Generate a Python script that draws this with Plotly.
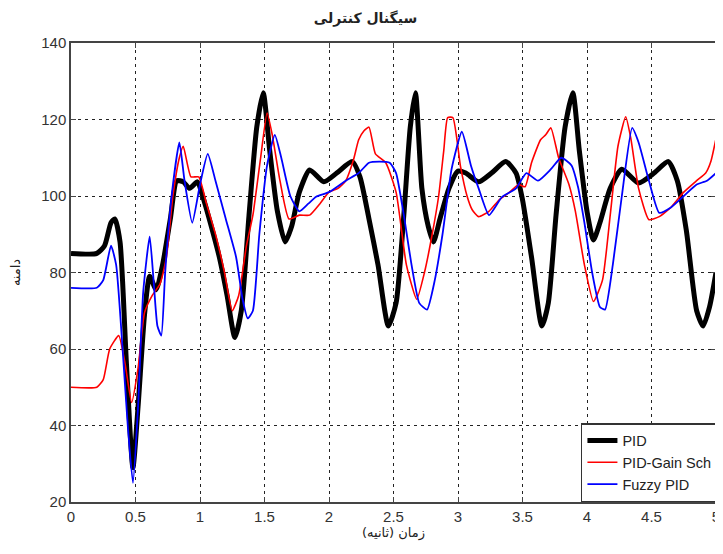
import plotly.graph_objects as go

# ---- data ----
t_pid = [0, 0.2, 0.26, 0.31, 0.34, 0.38, 0.43, 0.48, 0.52, 0.57, 0.61, 0.66, 0.71, 0.77, 0.82, 0.87,
         0.92, 0.98, 1.02, 1.08, 1.15, 1.21, 1.27, 1.32, 1.38, 1.44, 1.49, 1.54, 1.6, 1.66, 1.71, 1.77,
         1.85, 1.96, 2.06, 2.18, 2.24, 2.31, 2.38, 2.46, 2.52, 2.58, 2.63, 2.67, 2.72, 2.77, 2.81, 2.86,
         2.93, 3.0, 3.06, 3.16, 3.26, 3.37, 3.45, 3.5, 3.57, 3.65, 3.7, 3.76, 3.83, 3.89, 3.94, 4.0,
         4.05, 4.1, 4.18, 4.27, 4.4, 4.52, 4.63, 4.7, 4.77, 4.85, 4.9, 4.95, 5.0]
y_pid = [85, 85, 87, 93, 94, 88, 56, 29, 45, 69, 79, 75.5, 82, 94, 104, 103.7,
         102, 103.7, 100, 93, 84, 74, 63, 70, 95, 118, 127, 112, 96, 88, 92, 101,
         106.8, 103.7, 106, 109, 105, 94, 82, 66, 72, 95, 118, 127, 102, 92, 88, 94,
         102, 106.5, 106, 103.7, 106, 109, 106, 99, 84, 66, 72, 95, 118, 127, 112, 96,
         88.5, 93, 102, 107, 103.4, 106, 109, 104, 91, 70, 66, 71, 80]

t_gain = [0, 0.2, 0.25, 0.3, 0.37, 0.42, 0.47, 0.52, 0.57, 0.63, 0.69, 0.74, 0.79, 0.84, 0.87, 0.93,
          0.99, 1.05, 1.12, 1.19, 1.25, 1.3, 1.36, 1.41, 1.47, 1.52, 1.56, 1.62, 1.69, 1.77, 1.85, 1.93,
          2.0, 2.07, 2.13, 2.19, 2.23, 2.27, 2.31, 2.36, 2.44, 2.52, 2.6, 2.68, 2.74, 2.8, 2.85, 2.89,
          2.92, 2.96, 3.02, 3.07, 3.11, 3.16, 3.24, 3.32, 3.4, 3.47, 3.52, 3.57, 3.64, 3.68, 3.72, 3.78,
          3.86, 3.91, 3.98, 4.05, 4.12, 4.18, 4.24, 4.3, 4.34, 4.4, 4.48, 4.56, 4.65, 4.75, 4.85, 4.92,
          4.96, 5.0]
y_gain = [50, 50, 52, 60, 63.5, 56, 46, 55, 69.5, 74, 77, 84, 100, 110, 113, 105,
          105, 98, 90, 80, 70, 74, 87, 95, 110, 121.7, 116, 104, 94, 95, 95, 98,
          101, 102, 104, 109.5, 114.7, 117, 118, 111, 108.7, 101, 82, 73, 80, 90, 100, 112,
          120.5, 120.5, 107.6, 100, 96.4, 94.6, 96, 99, 101, 103, 102.4, 108.7, 114.7, 116, 117.8, 110,
          103, 96, 82, 72.4, 78, 95, 113, 120.7, 115, 102, 93.8, 94.6, 97, 101, 104, 106,
          109, 115]

t_fuzzy = [0, 0.2, 0.25, 0.31, 0.35, 0.4, 0.44, 0.48, 0.52, 0.56, 0.61, 0.64, 0.67, 0.7, 0.73, 0.78,
           0.84, 0.88, 0.94, 1.0, 1.06, 1.12, 1.2, 1.28, 1.33, 1.37, 1.41, 1.46, 1.52, 1.58, 1.63, 1.7,
           1.77, 1.84, 1.9, 2.0, 2.13, 2.23, 2.31, 2.39, 2.47, 2.52, 2.58, 2.64, 2.7, 2.76, 2.82, 2.88,
           2.95, 3.03, 3.1, 3.16, 3.24, 3.34, 3.45, 3.53, 3.62, 3.72, 3.8, 3.88, 3.93, 3.98, 4.04, 4.1,
           4.14, 4.2, 4.27, 4.35, 4.4, 4.48, 4.56, 4.65, 4.75, 4.85, 4.93, 5.0]
y_fuzzy = [76, 76, 78, 87, 82, 60, 40, 25, 45, 75, 89.4, 78, 66, 63.5, 80, 100,
           114, 104, 93, 103, 111, 104, 94, 84, 73, 68, 70, 90, 108, 116, 110, 100,
           96, 98, 99.8, 101, 104, 106, 108.7, 109, 108.7, 106, 95, 82, 72, 70.3, 78, 90,
           107, 116.8, 108, 102, 95, 99.7, 102, 106, 104, 107, 110, 108, 102.4, 93, 80, 71,
           70.3, 82, 100, 117.8, 114, 104, 95.6, 97, 100, 103, 104, 106]

x_ticks = [0, 0.5, 1, 1.5, 2, 2.5, 3, 3.5, 4, 4.5, 5]
x_tick_text = ["0", "0.5", "1", "1.5", "2", "2.5", "3", "3.5", "4", "4.5", "5"]
y_ticks = [20, 40, 60, 80, 100, 120, 140]

names = ["PID", "PID-Gain Sch", "Fuzzy PID"]
title_text = "سیگنال کنترلی"
x_title = "زمان (ثانیه)"
y_title = "دامنه"

fig = go.Figure()
fig.add_trace(go.Scatter(x=t_pid, y=y_pid, mode="lines", name=names[0],
                         line=dict(color="#000000", width=5, shape="spline", smoothing=0.6)))
fig.add_trace(go.Scatter(x=t_gain, y=y_gain, mode="lines", name=names[1],
                         line=dict(color="#ff0000", width=1.6, shape="spline", smoothing=0.5)))
fig.add_trace(go.Scatter(x=t_fuzzy, y=y_fuzzy, mode="lines", name=names[2],
                         line=dict(color="#0000ff", width=1.8, shape="spline", smoothing=0.5)))

axis_common = dict(showgrid=True, gridcolor="#222222", griddash="3px,4px", gridwidth=1,
                   showline=True, linecolor="#444444", linewidth=1.5, mirror="ticks",
                   ticks="inside", ticklen=5, tickcolor="#444444", zeroline=False,
                   automargin=False,
                   tickfont=dict(family="Liberation Sans, Arial", size=15, color="#333333"))

fig.update_xaxes(range=[0, 5], tickvals=x_ticks, ticktext=x_tick_text,
                 title=dict(text=x_title, font=dict(family="DejaVu Sans", size=13, color="#222"), standoff=2),
                 **axis_common)
fig.update_yaxes(range=[20, 140], tickvals=y_ticks,
                 title=dict(text=y_title, font=dict(family="DejaVu Sans", size=13, color="#222"), standoff=18),
                 **axis_common)

# page body has an 8px default margin, so the figure is sized to fill the rest of the window
fig.update_layout(
    width=715, height=546,
    margin=dict(l=63, r=5, t=35, b=52),
    paper_bgcolor="white", plot_bgcolor="white",
    title=dict(text="<b>" + title_text + "</b>", x=0.5, xanchor="center", y=0.982, yanchor="middle",
               automargin=False,
               font=dict(family="DejaVu Sans", size=14, color="#222")),
    legend=dict(x=1.003, xanchor="right", y=0.0, yanchor="bottom",
                bgcolor="white", bordercolor="#333333", borderwidth=1.5,
                font=dict(family="Liberation Sans, Arial", size=14.5, color="#222"),
                tracegroupgap=0, itemwidth=30, entrywidth=165, entrywidthmode="pixels"),
    showlegend=True,
)

fig.write_html("out.html")
